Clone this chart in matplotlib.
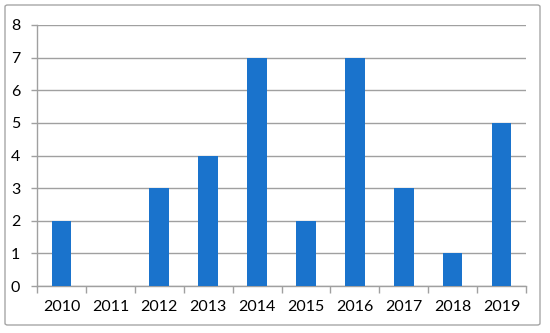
import numpy as np
import matplotlib
matplotlib.use('Agg')
import matplotlib.pyplot as plt
from matplotlib.patches import FancyBboxPatch

# Data
years = ['2010', '2011', '2012', '2013', '2014', '2015', '2016', '2017', '2018', '2019']
counts = [2, 0, 3, 4, 7, 2, 7, 3, 1, 5]
yticks = [0, 1, 2, 3, 4, 5, 6, 7, 8]

plt.rcParams['font.family'] = ['Lato', 'DejaVu Sans']

fig = plt.figure(figsize=(5.5, 3.33), dpi=100)

# Rounded outer border like an Excel chart
border = FancyBboxPatch((5 / 550, 8 / 333), 535 / 550, 320 / 333,
                        boxstyle='round,pad=0,rounding_size=0.005',
                        transform=fig.transFigure, facecolor='none',
                        edgecolor='#a6a6a6', linewidth=1.0, zorder=0)
fig.patches.append(border)

ax = fig.add_axes([37 / 550, 47 / 333, 489 / 550, 261 / 333])
ax.set_facecolor('none')
ax.set_zorder(2)

x = np.arange(len(years))
ax.bar(x, counts, width=0.4, color='#1a73cc', zorder=3)

ax.set_xlim(-0.5, len(years) - 0.5)
ax.set_ylim(0, 8)
ax.set_yticks(yticks)
ax.grid(axis='y', color='#a0a0a0', linewidth=1.0, zorder=0)

# x ticks between categories, labels at centres
ax.set_xticks(np.arange(-0.5, len(years), 1.0))
ax.set_xticklabels([])
ax.set_xticks(x, minor=True)
ax.set_xticklabels(years, minor=True)
ax.tick_params(axis='x', which='major', length=5, color='#a0a0a0', width=1)
ax.tick_params(axis='x', which='minor', length=0, labelsize=11.5, pad=10)
ax.tick_params(axis='y', length=4, color='#a0a0a0', width=1, labelsize=11.5, pad=8)

for s in ['top', 'right']:
    ax.spines[s].set_visible(False)
for s in ['left', 'bottom']:
    ax.spines[s].set_color('#a0a0a0')
    ax.spines[s].set_linewidth(1.0)

fig.savefig('out.png', dpi=100)
